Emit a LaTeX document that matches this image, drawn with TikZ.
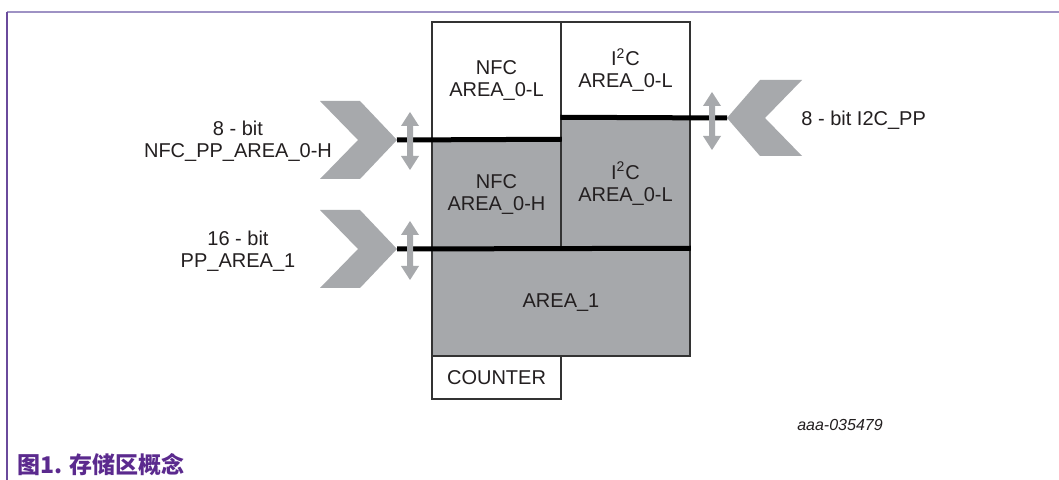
\documentclass[tikz,border=0pt]{standalone}
\usepackage{fontspec}
\setmainfont{Liberation Sans}
\newfontfamily\cjk{Noto Sans CJK SC}
\definecolor{areagray}{HTML}{A6A8AB}
\definecolor{arrowgray}{HTML}{A7A9AC}
\definecolor{framepurple}{HTML}{6A4A9C}
\definecolor{framelight}{HTML}{9E92C4}
\definecolor{captionpurple}{HTML}{5B2A8E}
\definecolor{txt}{HTML}{231F20}
\definecolor{boxline}{HTML}{333333}
\begin{document}
\begin{tikzpicture}[x=0.5pt,y=-0.5pt,
  area/.style={draw=boxline,line width=0.75pt,inner sep=0pt,align=center,text=txt,
    font=\fontsize{10}{11}\selectfont,minimum width=64.5pt},
  graybox/.style={area,fill=areagray},
  whitebox/.style={area,fill=white},
  bus/.style={line width=2.5pt,black},
  lbl/.style={align=center,text=txt,font=\fontsize{10}{11}\selectfont,inner sep=0pt},
  chev/.style={fill=arrowgray},
  dblarrow/.style={fill=arrowgray}]
\useasboundingbox (0,0) rectangle (1059,480);
\fill[white] (0,0) rectangle (1059,480);
% frame
\draw[framelight,line width=1pt] (7,12) -- (1059,12);
\draw[framepurple,line width=1pt] (7,12) -- (7,480);
% memory areas
\node[whitebox,minimum height=59pt] (nfcL) at (496.5,81) {NFC\\AREA\_0-L};
\node[whitebox,minimum height=48pt] (i2cL) at (625.5,70) {I\textsuperscript{2}C\\AREA\_0-L};
\node[graybox,minimum height=54.5pt] (nfcH) at (496.5,194.5) {NFC\\AREA\_0-H};
\node[graybox,minimum height=65.5pt] (i2cH) at (625.5,183.5) {I\textsuperscript{2}C\\AREA\_0-L};
\node[graybox,minimum width=129pt,minimum height=53.5pt] (area1) at (561,302.5) {AREA\_1};
\node[whitebox,minimum height=21.5pt] (counter) at (496.5,377.5) {COUNTER};
% chevrons
\coordinate (tipA) at (397,140);
\coordinate (tipB) at (397,249);
\coordinate (tipC) at (727,118);
\fill[chev] (320,101) -- (360,101) -- (tipA) -- (360,179) -- (320,179) -- (358,140) -- cycle;
\fill[chev] (320,210) -- (360,210) -- (tipB) -- (360,288) -- (320,288) -- (358,249) -- cycle;
\fill[chev] (802,80) -- (760,80) -- (tipC) -- (760,156) -- (802,156) -- (765,118) -- cycle;
% buses
\draw[bus] (tipA) -- (nfcH.north east);
\draw[bus] (tipB) -- (area1.north east);
\draw[bus] (i2cH.north west) -- (tipC);
% double arrows
\foreach \cx/\ya/\yb in {410/112/170, 410/221/280, 712/92/150}{
  \fill[dblarrow] (\cx,\ya) -- (\cx+9,\ya+14) -- (\cx+3,\ya+14) -- (\cx+3,\yb-14) -- (\cx+9,\yb-14)
    -- (\cx,\yb) -- (\cx-9,\yb-14) -- (\cx-3,\yb-14) -- (\cx-3,\ya+14) -- (\cx-9,\ya+14) -- cycle;
}
% labels
\node[lbl] (lblA) at (238,141) {8 - bit\\NFC\_PP\_AREA\_0-H};
\node[lbl] (lblB) at (238,251.5) {16 - bit\\PP\_AREA\_1};
\node[lbl,anchor=west] (lblC) at (801,120) {8 - bit I2C\_PP};
\node[text=txt,font=\fontsize{8}{9}\selectfont\itshape,inner sep=0pt] (code) at (840,425) {aaa-035479};
\node[anchor=west,inner sep=0pt,text=captionpurple,font=\cjk\bfseries\fontsize{11.5}{13}\selectfont] (cap) at (17,465) {图1. 存储区概念};
\end{tikzpicture}
\end{document}
